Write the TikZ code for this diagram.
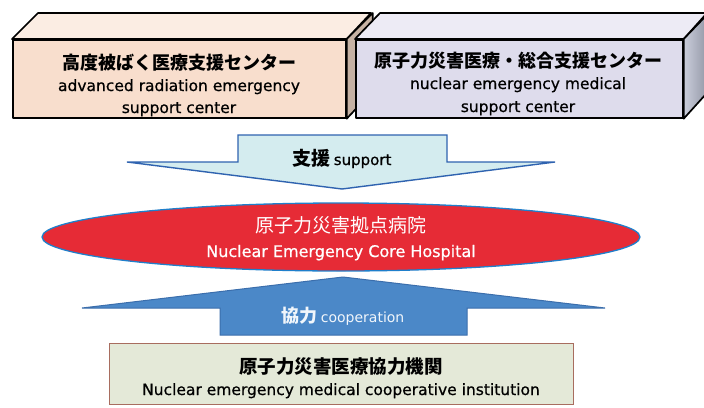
\documentclass[tikz,border=0pt]{standalone}
\usepackage{fontspec}
\setmainfont{DejaVu Sans}
\newfontfamily\jp{Noto Sans CJK JP}
\newfontfamily\enheavy[FakeBold=0.6]{DejaVu Sans}
\usetikzlibrary{shapes.geometric}
\definecolor{peachfront}{HTML}{F8DECD}
\definecolor{peachtop}{HTML}{FBEDE3}
\definecolor{lavfront}{HTML}{DEDCEC}
\definecolor{lavtop}{HTML}{EDEBF5}
\definecolor{lavside}{HTML}{B4B9CC}
\definecolor{cyanfill}{HTML}{D4ECEF}
\definecolor{arrowblue}{HTML}{2F63B0}
\definecolor{hospred}{HTML}{E62B36}
\definecolor{hospedge}{HTML}{1F7FCB}
\definecolor{upfill}{HTML}{4B88C8}
\definecolor{upedge}{HTML}{3B6EAC}
\definecolor{coopfill}{HTML}{E4E9D8}
\definecolor{coopedge}{HTML}{A86D5F}
\tikzset{
  face/.style={draw=black, line width=1.7pt, line join=round},
  frontbox/.style={face, rectangle, inner sep=0pt, anchor=north west},
  jptxt/.style={font=\jp\bfseries\fontsize{18}{20}\selectfont, anchor=base, inner sep=0pt},
  entxt/.style={font=\enheavy\fontsize{15.5}{18}\selectfont, anchor=base, inner sep=0pt},
}
\begin{document}
\begin{tikzpicture}[x=1pt,y=-1pt]
\useasboundingbox (0,0) rectangle (704,407);
\fill[white] (0,0) rectangle (704,407);
\begin{scope}
\clip (0,0) rectangle (704,407);
% left 3D box
\node[frontbox, fill=peachfront, minimum width=333pt, minimum height=78pt] (lb) at (12,39) {};
\filldraw[face, fill=peachtop] (lb.north west) -- ++(26,-26) -- ++(333,0) -- (lb.north east) -- cycle;
\filldraw[face, fill=peachfront!80!black] (lb.north east) -- ++(26,-26) -- ++(0,78) -- (lb.south east) -- cycle;
\node[jptxt] (lb1) at (179,69) {高度被ばく医療支援センター};
\node[entxt] (lb2) at (179,91) {advanced radiation emergency};
\node[entxt] (lb3) at (179,113) {support center};
% right 3D box
\node[frontbox, fill=lavfront, minimum width=327pt, minimum height=78pt] (rb) at (355,39) {};
\filldraw[face, fill=lavtop] (rb.north west) -- ++(25,-26) -- ++(327,0) -- (rb.north east) -- cycle;
\filldraw[face, left color=lavside!70!white, right color=lavside!80!black] (rb.north east) -- ++(25,-26) -- ++(0,78) -- (rb.south east) -- cycle;
\node[jptxt] (rb1) at (518,67) {原子力災害医療・総合支援センター};
\node[entxt] (rb2) at (518,89) {nuclear emergency medical};
\node[entxt] (rb3) at (518,112) {support center};
% support arrow
\filldraw[fill=cyanfill, draw=arrowblue, line width=1.4pt, line join=miter]
  (238,135) -- (447,135) -- (447,162) -- (555,162) -- (342,189) -- (127,162) -- (238,162) -- cycle;
\node[anchor=base, inner sep=0pt] (sup) at (342,165)
  {{\jp\bfseries\fontsize{19}{20}\selectfont 支援} {\enheavy\fontsize{15}{18}\selectfont support}};
% hospital ellipse
\node[ellipse, fill=hospred, draw=hospedge, line width=1.3pt, minimum width=598pt, minimum height=68pt, inner sep=0pt] (hosp) at (341,237) {};
\node[anchor=base, inner sep=0pt, text=white, font=\jp\fontsize{19}{20}\selectfont] (h1) at (341,232) {原子力災害拠点病院};
\node[anchor=base, inner sep=0pt, text=white, font=\enheavy\fontsize{16}{18}\selectfont] (h2) at (341,257) {Nuclear Emergency Core Hospital};
% cooperation arrow
\filldraw[fill=upfill, draw=upedge, line width=1pt, line join=miter]
  (220,335) -- (220,308) -- (82,308) -- (343,277) -- (605,308) -- (467,308) -- (467,335) -- cycle;
\node[anchor=base, inner sep=0pt, text=white!92!upfill] (coop) at (343,322)
  {{\jp\bfseries\fontsize{18}{20}\selectfont 協力} {\fontsize{14}{16}\selectfont cooperation}};
% bottom box
\node[rectangle, fill=coopfill, draw=coopedge, line width=1.3pt, minimum width=464pt, minimum height=61pt, anchor=north west, inner sep=0pt] (cb) at (109,343) {};
\node[jptxt, font=\jp\bfseries\fontsize{18.5}{20}\selectfont] (cb1) at (341,373) {原子力災害医療協力機関};
\node[entxt] (cb2) at (341,395) {Nuclear emergency medical cooperative institution};
\end{scope}
\end{tikzpicture}
\end{document}
